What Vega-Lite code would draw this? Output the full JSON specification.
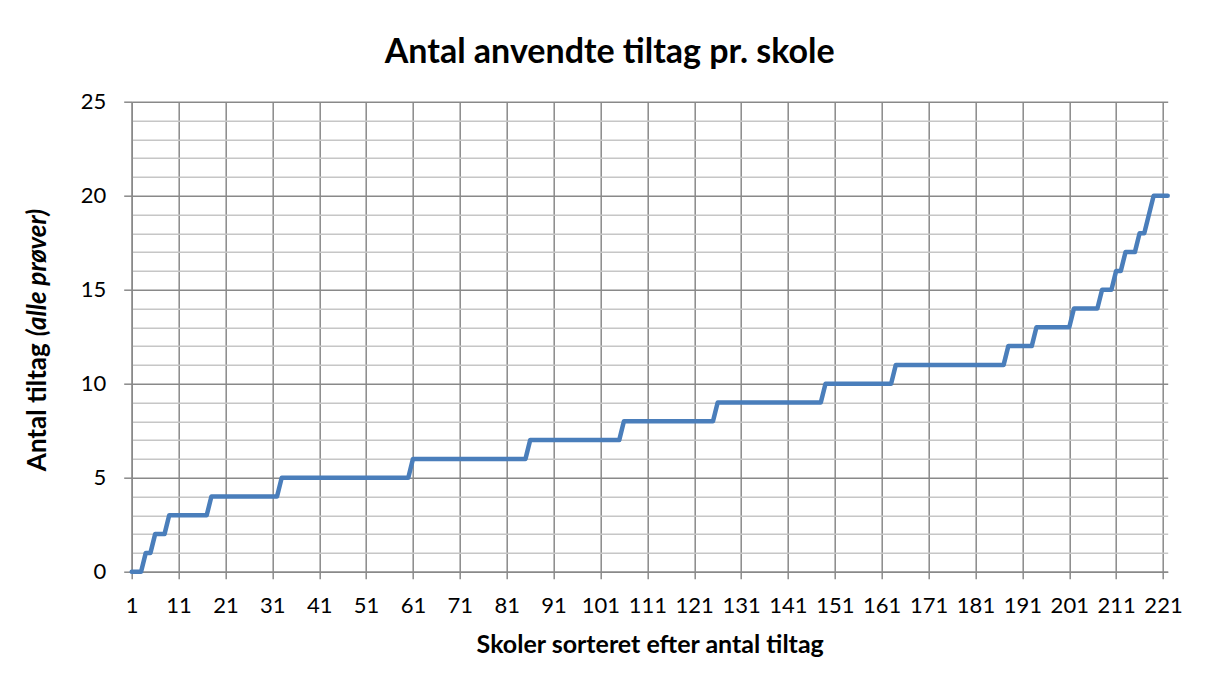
{
  "$schema": "https://vega.github.io/schema/vega-lite/v6.json",
  "width": 1036,
  "height": 470,
  "autosize": {"type": "none"},
  "padding": {"left": 131.7, "top": 101.7, "right": 46.3, "bottom": 120.3},
  "background": "white",
  "config": {"view": {"stroke": null}, "font": "Lato"},
  "title": {
    "text": "Antal anvendte tiltag pr. skole",
    "font": "Lato",
    "fontSize": 34,
    "fontWeight": "bold",
    "color": "#000000",
    "anchor": "middle",
    "frame": "group",
    "dx": -40,
    "offset": 21
  },
  "data": {"values": [
    {"s":1,"v":0},{"s":2,"v":0},{"s":3,"v":0},
    {"s":4,"v":1},{"s":5,"v":1},
    {"s":6,"v":2},{"s":7,"v":2},{"s":8,"v":2},
    {"s":9,"v":3},{"s":10,"v":3},{"s":11,"v":3},{"s":12,"v":3},{"s":13,"v":3},{"s":14,"v":3},{"s":15,"v":3},{"s":16,"v":3},{"s":17,"v":3},
    {"s":18,"v":4},{"s":19,"v":4},{"s":20,"v":4},{"s":21,"v":4},{"s":22,"v":4},{"s":23,"v":4},{"s":24,"v":4},{"s":25,"v":4},{"s":26,"v":4},{"s":27,"v":4},{"s":28,"v":4},{"s":29,"v":4},{"s":30,"v":4},{"s":31,"v":4},{"s":32,"v":4},
    {"s":33,"v":5},{"s":34,"v":5},{"s":35,"v":5},{"s":36,"v":5},{"s":37,"v":5},{"s":38,"v":5},{"s":39,"v":5},{"s":40,"v":5},{"s":41,"v":5},{"s":42,"v":5},{"s":43,"v":5},{"s":44,"v":5},{"s":45,"v":5},{"s":46,"v":5},{"s":47,"v":5},{"s":48,"v":5},{"s":49,"v":5},{"s":50,"v":5},{"s":51,"v":5},{"s":52,"v":5},{"s":53,"v":5},{"s":54,"v":5},{"s":55,"v":5},{"s":56,"v":5},{"s":57,"v":5},{"s":58,"v":5},{"s":59,"v":5},{"s":60,"v":5},
    {"s":61,"v":6},{"s":62,"v":6},{"s":63,"v":6},{"s":64,"v":6},{"s":65,"v":6},{"s":66,"v":6},{"s":67,"v":6},{"s":68,"v":6},{"s":69,"v":6},{"s":70,"v":6},{"s":71,"v":6},{"s":72,"v":6},{"s":73,"v":6},{"s":74,"v":6},{"s":75,"v":6},{"s":76,"v":6},{"s":77,"v":6},{"s":78,"v":6},{"s":79,"v":6},{"s":80,"v":6},{"s":81,"v":6},{"s":82,"v":6},{"s":83,"v":6},{"s":84,"v":6},{"s":85,"v":6},
    {"s":86,"v":7},{"s":87,"v":7},{"s":88,"v":7},{"s":89,"v":7},{"s":90,"v":7},{"s":91,"v":7},{"s":92,"v":7},{"s":93,"v":7},{"s":94,"v":7},{"s":95,"v":7},{"s":96,"v":7},{"s":97,"v":7},{"s":98,"v":7},{"s":99,"v":7},{"s":100,"v":7},{"s":101,"v":7},{"s":102,"v":7},{"s":103,"v":7},{"s":104,"v":7},{"s":105,"v":7},
    {"s":106,"v":8},{"s":107,"v":8},{"s":108,"v":8},{"s":109,"v":8},{"s":110,"v":8},{"s":111,"v":8},{"s":112,"v":8},{"s":113,"v":8},{"s":114,"v":8},{"s":115,"v":8},{"s":116,"v":8},{"s":117,"v":8},{"s":118,"v":8},{"s":119,"v":8},{"s":120,"v":8},{"s":121,"v":8},{"s":122,"v":8},{"s":123,"v":8},{"s":124,"v":8},{"s":125,"v":8},
    {"s":126,"v":9},{"s":127,"v":9},{"s":128,"v":9},{"s":129,"v":9},{"s":130,"v":9},{"s":131,"v":9},{"s":132,"v":9},{"s":133,"v":9},{"s":134,"v":9},{"s":135,"v":9},{"s":136,"v":9},{"s":137,"v":9},{"s":138,"v":9},{"s":139,"v":9},{"s":140,"v":9},{"s":141,"v":9},{"s":142,"v":9},{"s":143,"v":9},{"s":144,"v":9},{"s":145,"v":9},{"s":146,"v":9},{"s":147,"v":9},{"s":148,"v":9},
    {"s":149,"v":10},{"s":150,"v":10},{"s":151,"v":10},{"s":152,"v":10},{"s":153,"v":10},{"s":154,"v":10},{"s":155,"v":10},{"s":156,"v":10},{"s":157,"v":10},{"s":158,"v":10},{"s":159,"v":10},{"s":160,"v":10},{"s":161,"v":10},{"s":162,"v":10},{"s":163,"v":10},
    {"s":164,"v":11},{"s":165,"v":11},{"s":166,"v":11},{"s":167,"v":11},{"s":168,"v":11},{"s":169,"v":11},{"s":170,"v":11},{"s":171,"v":11},{"s":172,"v":11},{"s":173,"v":11},{"s":174,"v":11},{"s":175,"v":11},{"s":176,"v":11},{"s":177,"v":11},{"s":178,"v":11},{"s":179,"v":11},{"s":180,"v":11},{"s":181,"v":11},{"s":182,"v":11},{"s":183,"v":11},{"s":184,"v":11},{"s":185,"v":11},{"s":186,"v":11},{"s":187,"v":11},
    {"s":188,"v":12},{"s":189,"v":12},{"s":190,"v":12},{"s":191,"v":12},{"s":192,"v":12},{"s":193,"v":12},
    {"s":194,"v":13},{"s":195,"v":13},{"s":196,"v":13},{"s":197,"v":13},{"s":198,"v":13},{"s":199,"v":13},{"s":200,"v":13},{"s":201,"v":13},
    {"s":202,"v":14},{"s":203,"v":14},{"s":204,"v":14},{"s":205,"v":14},{"s":206,"v":14},{"s":207,"v":14},
    {"s":208,"v":15},{"s":209,"v":15},{"s":210,"v":15},
    {"s":211,"v":16},{"s":212,"v":16},
    {"s":213,"v":17},{"s":214,"v":17},{"s":215,"v":17},
    {"s":216,"v":18},{"s":217,"v":18},
    {"s":218,"v":19},
    {"s":219,"v":20},{"s":220,"v":20},{"s":221,"v":20},{"s":222,"v":20}
  ]},
  "layer": [
    {
      "mark": {"type": "line", "color": "#4a7ebb", "strokeWidth": 4.5, "strokeCap": "round", "strokeJoin": "round"},
      "encoding": {
        "x": {
          "field": "s", "type": "quantitative",
          "scale": {"domain": [1, 222], "nice": false, "zero": false},
          "axis": {
            "values": [1, 11, 21, 31, 41, 51, 61, 71, 81, 91, 101, 111, 121, 131, 141, 151, 161, 171, 181, 191, 201, 211, 221],
            "format": "d",
            "title": "Skoler sorteret efter antal tiltag",
            "titleFont": "Lato", "titleFontSize": 25, "titleFontWeight": "bold", "titleColor": "#000000",
            "titlePadding": 16,
            "labelFont": "Lato", "labelFontSize": 22, "labelColor": "#000000", "labelPadding": 17,
            "labelOverlap": false, "labelFlush": false,
            "grid": true, "gridColor": "#898989", "gridWidth": 1.5,
            "domainColor": "#898989", "domainWidth": 1.5,
            "tickColor": "#898989", "tickWidth": 1.5, "tickSize": 7
          }
        },
        "y": {
          "field": "v", "type": "quantitative",
          "scale": {"domain": [0, 25], "nice": false},
          "axis": {
            "values": [0, 1, 2, 3, 4, 5, 6, 7, 8, 9, 10, 11, 12, 13, 14, 15, 16, 17, 18, 19, 20, 21, 22, 23, 24, 25],
            "labelExpr": "datum.value % 5 === 0 ? datum.label : ''",
            "labelFont": "Lato", "labelFontSize": 22, "labelColor": "#000000", "labelPadding": 18,
            "labelOverlap": false,
            "grid": true,
            "gridColor": {"condition": {"test": "datum.value % 5 === 0", "value": "#898989"}, "value": "#c6c6c6"},
            "gridWidth": 1.5,
            "domainColor": "#898989", "domainWidth": 1.5,
            "tickColor": "#898989", "tickWidth": 1.5, "tickSize": 8,
            "tickOpacity": {"condition": {"test": "datum.value % 5 === 0", "value": 1}, "value": 0},
            "title": "Antal tiltag",
            "titleFont": "Lato", "titleFontSize": 26, "titleFontWeight": "bold", "titleColor": "#000000",
            "titleAngle": 270, "titleAlign": "right", "titleBaseline": "alphabetic",
            "titleX": -86, "titleY": 241
          }
        }
      }
    },
    {
      "mark": {"type": "line", "opacity": 0},
      "encoding": {
        "x": {"field": "s", "type": "quantitative"},
        "y": {
          "field": "v", "type": "quantitative",
          "axis": {
            "orient": "left",
            "labels": false, "ticks": false, "domain": false, "grid": false,
            "title": "(alle prøver)",
            "titleFont": "Lato", "titleFontSize": 26, "titleFontWeight": "bold", "titleFontStyle": "italic", "titleColor": "#000000",
            "titleAngle": 270, "titleAlign": "left", "titleBaseline": "alphabetic",
            "titleX": -86, "titleY": 234
          }
        }
      }
    }
  ],
  "resolve": {"axis": {"y": "independent"}}
}
